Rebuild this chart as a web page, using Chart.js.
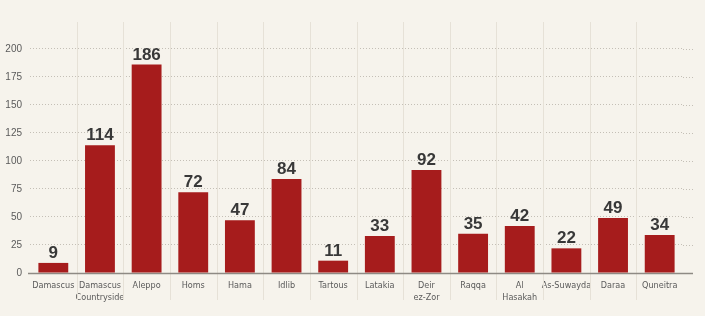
<!DOCTYPE html>
<html>
<head>
<meta charset="utf-8">
<script src="https://cdn.jsdelivr.net/npm/chart.js@4/dist/chart.umd.min.js"></script>
<style>
  html, body { margin: 0; padding: 0; background: #f6f3ec; }
  #wrap { width: 705px; height: 316px; position: relative; }
</style>
</head>
<body>
<div id="wrap"><canvas id="chart"></canvas></div>
<script>
// chart data
const categories = [
  "Damascus", ["Damascus", "Countryside"], "Aleppo", "Homs", "Hama", "Idlib",
  "Tartous", "Latakia", ["Deir", "ez-Zor"], "Raqqa", ["Al", "Hasakah"],
  "As-Suwayda", "Daraa", "Quneitra"
];
const values = [9, 114, 186, 72, 47, 84, 11, 33, 92, 35, 42, 22, 49, 34];
const yTicks = [0, 25, 50, 75, 100, 125, 150, 175, 200];

const barColor = "#a61c1c";

// vertical separators between categories, running above and below the plot
const separatorPlugin = {
  id: "separators",
  beforeDatasetsDraw(chart) {
    const { ctx, chartArea, scales } = chart;
    const x = scales.x;
    const half = (x.getPixelForValue(1) - x.getPixelForValue(0)) / 2;
    ctx.save();
    ctx.strokeStyle = "#e6e1d7";
    ctx.lineWidth = 1;
    for (let i = 1; i < categories.length; i++) {
      const px = Math.round(x.getPixelForValue(i) - half) + 0.5;
      ctx.beginPath();
      ctx.moveTo(px, chartArea.top);
      ctx.lineTo(px, chartArea.bottom + 27);
      ctx.stroke();
    }
    // dotted extension of the value grid past the last category
    ctx.strokeStyle = "#c4bfb6";
    ctx.setLineDash([1, 2]);
    yTicks.slice(1).forEach(v => {
      const py = Math.round(scales.y.getPixelForValue(v)) + 0.5;
      ctx.beginPath();
      ctx.moveTo(chartArea.right, py);
      ctx.lineTo(chartArea.right + 10, py);
      ctx.stroke();
    });
    ctx.setLineDash([]);
    // baseline, a little wider than the plot
    const y0 = Math.round(scales.y.getPixelForValue(0)) + 0.5;
    ctx.strokeStyle = "#8e8a84";
    ctx.lineWidth = 1.5;
    ctx.beginPath();
    ctx.moveTo(chartArea.left - 2, y0);
    ctx.lineTo(chartArea.right + 10, y0);
    ctx.stroke();
    ctx.restore();
  }
};

// value labels above each bar
const valueLabelPlugin = {
  id: "valueLabels",
  afterDatasetsDraw(chart) {
    const { ctx } = chart;
    const meta = chart.getDatasetMeta(0);
    ctx.save();
    ctx.font = "bold 17px 'Liberation Sans', Arial, sans-serif";
    ctx.fillStyle = "#383838";
    ctx.textAlign = "center";
    ctx.textBaseline = "alphabetic";
    meta.data.forEach((bar, i) => {
      ctx.fillText(String(values[i]), bar.x, bar.y - 5);
    });
    ctx.restore();
  }
};

new Chart(document.getElementById("chart"), {
  type: "bar",
  data: {
    labels: categories,
    datasets: [{
      data: values,
      backgroundColor: barColor,
      borderWidth: 0,
      barPercentage: 0.64,
      categoryPercentage: 1
    }]
  },
  options: {
    responsive: true,
    maintainAspectRatio: false,
    animation: false,
    layout: { padding: { top: 22, right: 22, left: 0, bottom: 0 } },
    plugins: { legend: { display: false }, tooltip: { enabled: false } },
    scales: {
      x: {
        grid: { display: false, drawTicks: false },
        border: { display: false },
        afterFit(scale) { scale.height = 43; },
        ticks: {
          padding: 7,
          maxRotation: 0,
          autoSkip: false,
          color: "#5a5a5a",
          font: { family: "'DejaVu Sans Condensed', sans-serif", size: 9, lineHeight: 1.3 }
        }
      },
      y: {
        min: 0,
        max: 224,
        afterFit(scale) { scale.width = 30; },
        afterBuildTicks(scale) {
          scale.ticks = yTicks.map(v => ({ value: v }));
        },
        grid: {
          drawTicks: false,
          color: (c) => c.tick && c.tick.value === 0 ? "rgba(0,0,0,0)" : "#c4bfb6",
          lineWidth: 1
        },
        border: { display: false, dash: [1, 2] },
        ticks: {
          padding: 8,
          color: "#5a5a5a",
          font: { family: "'Liberation Sans', Arial, sans-serif", size: 10 }
        }
      }
    }
  },
  plugins: [separatorPlugin, valueLabelPlugin]
});
</script>
</body>
</html>
